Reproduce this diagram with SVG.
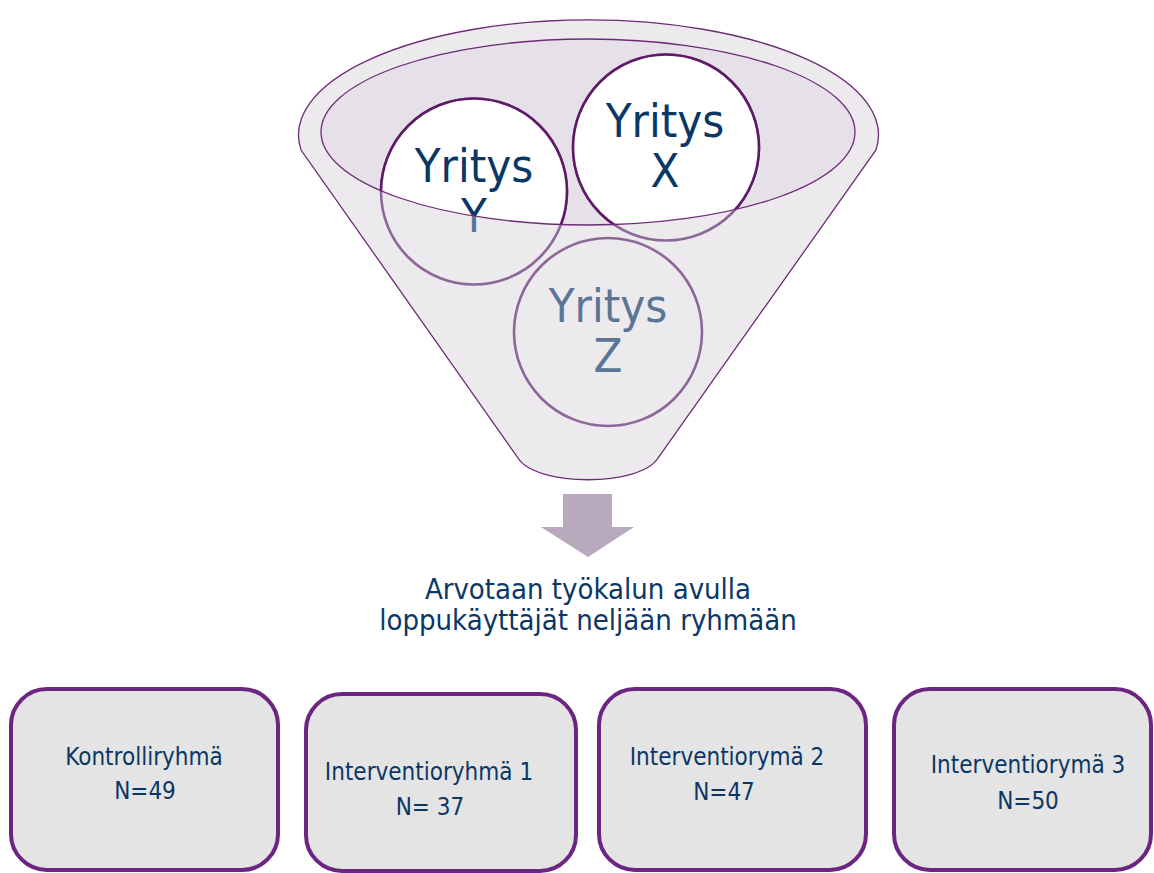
<svg xmlns="http://www.w3.org/2000/svg" width="1154" height="873" viewBox="0 0 1154 873">
<defs>
<style>
text{font-family:"DejaVu Sans Condensed","DejaVu Sans","Liberation Sans",sans-serif;text-anchor:middle}
.big{font-size:47px}
.dark{fill:#0b3766}
.light{fill:#5b7597}
.cl{fill:none;stroke:#8c6898;stroke-width:2.6}
.cd{fill:#ffffff;stroke:#5e1a66;stroke-width:2.6}
.box{fill:#e4e4e4;stroke:#6c2580;stroke-width:4}
.bt{font-size:24px;fill:#0b3766}
</style>
<clipPath id="inner"><ellipse cx="588" cy="132" rx="267" ry="93"/></clipPath>
</defs>
<g id="funnel">
<path d="M301,150 A290,115 0 1 1 876,150 L658,458 C640,487 536,487 518,458 Z" fill="#edeaee" stroke="#6e2a78" stroke-width="1.3"/>
<ellipse cx="588" cy="132" rx="267" ry="93" fill="#e6e1e8"/>
</g>
<g id="company-y">
<circle class="cl" cx="474" cy="191.5" r="93"/>
<text class="big light" x="474" y="182">Yritys</text>
<text class="big light" x="474" y="232">Y</text>
<g clip-path="url(#inner)">
<circle class="cd" cx="474" cy="191.5" r="93"/>
<text class="big dark" x="474" y="182">Yritys</text>
<text class="big dark" x="474" y="232">Y</text>
</g>
</g>
<g id="company-x">
<circle class="cl" cx="666" cy="147.5" r="93"/>
<text class="big light" x="665" y="137">Yritys</text>
<text class="big light" x="665" y="187">X</text>
<g clip-path="url(#inner)">
<circle class="cd" cx="666" cy="147.5" r="93"/>
<text class="big dark" x="665" y="137">Yritys</text>
<text class="big dark" x="665" y="187">X</text>
</g>
</g>
<g id="company-z">
<circle class="cl" cx="608" cy="332" r="94"/>
<text class="big light" x="608" y="322">Yritys</text>
<text class="big light" x="608" y="372">Z</text>
</g>
<ellipse cx="588" cy="132" rx="267" ry="93" fill="none" stroke="#6e2a78" stroke-width="1.3"/>
<g id="connectors">
<path d="M563,494 H612 V527 H634 L588,557 L541,527 H563 Z" fill="#b8a9bd"/>
</g>
<g id="caption">
<text x="588" y="599" font-size="29" class="dark">Arvotaan työkalun avulla</text>
<text x="588" y="630" font-size="29" class="dark">loppukäyttäjät neljään ryhmään</text>
</g>
<g id="group-control">
<rect class="box" x="11" y="689" width="267" height="181" rx="36"/>
<text class="bt" x="144" y="765">Kontrolliryhmä</text>
<text class="bt" x="145" y="799">N=49</text>
</g>
<g id="group-1">
<rect class="box" x="306" y="694" width="270" height="177" rx="36"/>
<text class="bt" x="429" y="780">Interventioryhmä 1</text>
<text class="bt" x="430" y="815">N= 37</text>
</g>
<g id="group-2">
<rect class="box" x="599" y="689" width="267" height="181" rx="36"/>
<text class="bt" x="727" y="765">Interventiorymä 2</text>
<text class="bt" x="724" y="800">N=47</text>
</g>
<g id="group-3">
<rect class="box" x="894" y="689" width="257" height="181" rx="36"/>
<text class="bt" x="1028" y="773">Interventiorymä 3</text>
<text class="bt" x="1028" y="809">N=50</text>
</g>
</svg>
